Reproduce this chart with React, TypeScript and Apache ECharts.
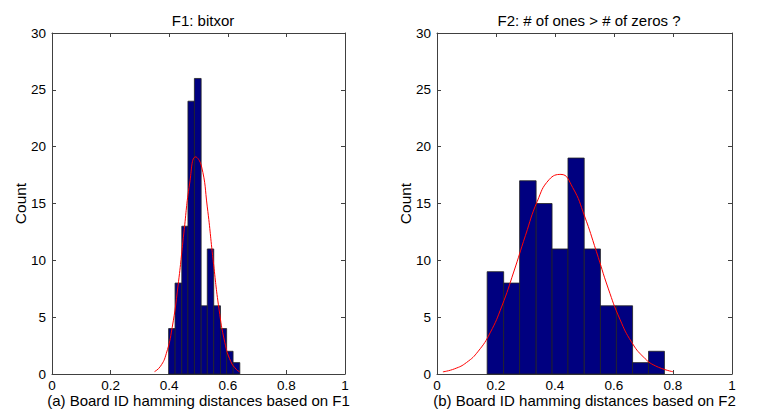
import React, { useEffect, useRef } from "react";
import * as echarts from "echarts";

// Histogram bin edges and counts
const leftEdges = [0.398, 0.42, 0.443, 0.464, 0.486, 0.509, 0.53, 0.552, 0.575, 0.596, 0.618, 0.641];
const leftCounts = [4, 8, 13, 24, 26, 6, 11, 6, 4, 2, 1];
const rightEdges = [0.17, 0.226, 0.28, 0.336, 0.39, 0.444, 0.499, 0.554, 0.608, 0.663, 0.717, 0.771];
const rightCounts = [9, 8, 17, 15, 11, 19, 11, 6, 6, 1, 2];

// Fitted curves, points
const leftCurveX = [0.35, 0.37, 0.39, 0.41, 0.43, 0.45, 0.47, 0.49, 0.51, 0.53, 0.55, 0.57, 0.59, 0.61, 0.63, 0.64];
const leftCurveY = [0.21, 0.67, 1.79, 4.07, 7.74, 12.4, 16.8, 19.1, 18.3, 14.7, 10.0, 5.72, 2.76, 1.11, 0.38, 0.21];
const rightCurveX = [0.02, 0.06, 0.1, 0.14, 0.18, 0.22, 0.26, 0.3, 0.34, 0.38, 0.42, 0.46, 0.5, 0.54, 0.58, 0.62, 0.66, 0.7, 0.74, 0.8];
const rightCurveY = [0.19, 0.46, 1.01, 2.01, 3.62, 5.98, 8.97, 12.2, 15.2, 17.1, 17.56, 16.4, 13.9, 10.8, 7.56, 4.82, 2.79, 1.49, 0.72, 0.2];

const titles = ["F1: bitxor", "F2: # of ones > # of zeros ?"];
const xLabels = ["(a) Board ID hamming distances based on F1", "(b) Board ID hamming distances based on F2"];
const yLabel = "Count";

const FONT = "Liberation Sans, Arial, sans-serif";
const AXIS_COLOR = "#404040";
const W = 762;
const H = 409;

function binData(edges: number[], counts: number[]) {
  return counts.map((c, i) => [edges[i], edges[i + 1], c]);
}

export default function App() {
  const ref = useRef<HTMLDivElement>(null);
  useEffect(() => {
    if (!ref.current) return;
    const chart = echarts.init(ref.current, null, { renderer: "svg", width: W, height: H });
    const grids = [
      { left: 52, right: 417, top: 33, bottom: 35, containLabel: false, outerBoundsMode: "none" },
      { left: 437, right: 30, top: 33, bottom: 35, containLabel: false, outerBoundsMode: "none" },
    ];
    const line = { onZero: false, lineStyle: { color: AXIS_COLOR, width: 1 } };
    const tick = { show: true, inside: true, length: 4, lineStyle: { color: AXIS_COLOR } };
    const xAxes: any[] = [];
    const yAxes: any[] = [];
    [0, 1].forEach((g) => {
      xAxes.push({
        type: "value",
        gridIndex: g,
        min: 0,
        max: 1,
        interval: 0.2,
        position: "bottom",
        name: xLabels[g],
        nameLocation: "middle",
        nameGap: 19,
        nameMoveOverlap: false,
        nameTextStyle: { fontFamily: FONT, fontSize: 15, color: "#000" },
        axisLine: line,
        axisTick: tick,
        axisLabel: { fontFamily: FONT, fontSize: 13.5, color: "#000", margin: 4 },
        splitLine: { show: false },
      });
      xAxes.push({
        type: "value",
        gridIndex: g,
        min: 0,
        max: 1,
        interval: 0.2,
        position: "top",
        axisLine: line,
        axisTick: tick,
        axisLabel: { show: false },
        splitLine: { show: false },
      });
      yAxes.push({
        type: "value",
        gridIndex: g,
        min: 0,
        max: 30,
        interval: 5,
        position: "left",
        name: yLabel,
        nameLocation: "middle",
        nameGap: 24,
        nameMoveOverlap: false,
        nameTextStyle: { fontFamily: FONT, fontSize: 15.5, color: "#000" },
        axisLine: { show: true, ...line },
        axisTick: tick,
        axisLabel: { fontFamily: FONT, fontSize: 13.5, color: "#000", margin: 6 },
        splitLine: { show: false },
      });
      yAxes.push({
        type: "value",
        gridIndex: g,
        min: 0,
        max: 30,
        interval: 5,
        position: "right",
        axisLine: { show: true, ...line },
        axisTick: tick,
        axisLabel: { show: false },
        splitLine: { show: false },
      });
    });

    const renderBar = (params: any, api: any) => {
      const p0 = api.coord([api.value(0), api.value(2)]);
      const p1 = api.coord([api.value(1), 0]);
      return {
        type: "rect",
        shape: { x: p0[0], y: p0[1], width: p1[0] - p0[0], height: p1[1] - p0[1] },
        style: { fill: "#000080", stroke: "#222", lineWidth: 0.8 },
      };
    };

    const titleStyle = { fontFamily: FONT, fontSize: 15, fontWeight: "normal", color: "#000" };
    chart.setOption({
      animation: false,
      backgroundColor: "#fff",
      title: [
        { text: titles[0], left: 198, top: 8, textAlign: "center", textStyle: titleStyle },
        { text: titles[1], left: 584, top: 8, textAlign: "center", textStyle: titleStyle },
      ],
      grid: grids,
      xAxis: xAxes,
      yAxis: yAxes,
      series: [
        {
          type: "custom",
          xAxisIndex: 0,
          yAxisIndex: 0,
          renderItem: renderBar,
          encode: { x: [0, 1], y: 2 },
          data: binData(leftEdges, leftCounts),
        },
        {
          type: "line",
          xAxisIndex: 0,
          yAxisIndex: 0,
          data: leftCurveX.map((x, i) => [x, leftCurveY[i]]),
          smooth: true,
          showSymbol: false,
          lineStyle: { color: "#ff0000", width: 1 },
          z: 5,
        },
        {
          type: "custom",
          xAxisIndex: 2,
          yAxisIndex: 2,
          renderItem: renderBar,
          encode: { x: [0, 1], y: 2 },
          data: binData(rightEdges, rightCounts),
        },
        {
          type: "line",
          xAxisIndex: 2,
          yAxisIndex: 2,
          data: rightCurveX.map((x, i) => [x, rightCurveY[i]]),
          smooth: true,
          showSymbol: false,
          lineStyle: { color: "#ff0000", width: 1 },
          z: 5,
        },
      ],
    });
    return () => chart.dispose();
  }, []);
  return <div ref={ref} style={{ position: "absolute", left: 0, top: 0, width: W, height: H }} />;
}
